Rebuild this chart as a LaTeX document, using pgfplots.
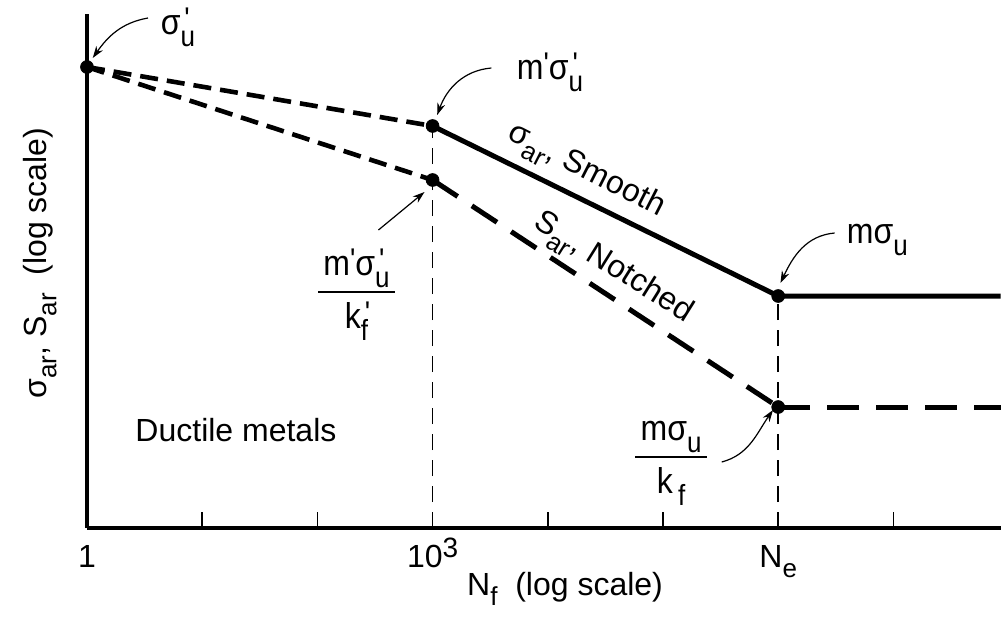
\documentclass[border=0pt]{standalone}
\usepackage{fontspec}
\setmainfont{Liberation Sans}
\usepackage{pgfplots}
\pgfplotsset{compat=1.18}
\usetikzlibrary{arrows.meta}

\newcommand{\sub}[1]{\raisebox{-0.32em}{\fontsize{13}{15}\selectfont #1}}
\newcommand{\pr}{\raisebox{0.15em}{\fontsize{14}{16}\selectfont\textquotesingle}}
\newcommand{\supsub}[2]{\makebox[0pt][l]{\hspace{0.12em}\raisebox{0.15em}{\fontsize{14}{16}\selectfont #1}}\raisebox{-0.32em}{\fontsize{13}{15}\selectfont #2}}
\newcommand{\ann}[1]{\scalebox{1}[1.12]{#1}}

\begin{document}
\begin{tikzpicture}[font=\fontsize{16}{19}\selectfont]
\begin{axis}[
  x=57.6pt, y=50pt,
  xmin=0, xmax=7.93, ymin=0, ymax=5.14,
  axis x line=bottom, axis y line=left,
  axis line style={line width=1.6pt, -},
  xtick={0,1,2,3,4,5,6,7},
  xticklabels={1,,,10\raisebox{0.3em}{\fontsize{14}{16}\selectfont 3},,,N\sub{e},},
  ytick=\empty,
  xtick align=inside,
  major tick length=8pt,
  tick style={line width=0.8pt, black},
  xticklabel style={font=\fontsize{16}{19}\selectfont, anchor=base, yshift=-19.5pt},
  clip=false,
]
% smooth
\addplot[black, line width=2.5pt] coordinates {(3,4.02) (6,2.32) (7.93,2.32)};
% short dashed extensions
\addplot[black, line width=2.3pt, dash pattern=on 9pt off 4.5pt] coordinates {(0,4.61) (3,4.02)};
\addplot[black, line width=2.3pt, dash pattern=on 9pt off 4.5pt] coordinates {(0,4.61) (3,3.48)};
% notched
\addplot[black, line width=2.5pt, dash pattern=on 15pt off 8.5pt] coordinates {(3,3.48) (6,1.21)};
\addplot[black, line width=2.5pt, dash pattern=on 16pt off 8.5pt] coordinates {(6,1.21) (7.93,1.21)};
% thin vertical dashed
\addplot[black, line width=0.8pt, dash pattern=on 8pt off 5pt] coordinates {(3,0) (3,4.02)};
\addplot[black, line width=0.8pt, dash pattern=on 8pt off 5pt] coordinates {(6,0) (6,2.32)};
% points
\addplot[only marks, mark=*, mark size=3.2pt, black] coordinates {(0,4.61) (3,4.02) (3,3.48) (6,2.32) (6,1.21)};

% labels
\node at (axis cs:0.79,5.01) {\ann{σ\supsub{\textquotesingle}{u}}};
\node at (axis cs:4.02,4.56) {\ann{m\pr σ\supsub{\textquotesingle}{u}}};
\node at (axis cs:6.86,2.88) {\ann{mσ\sub{u}}};
\node at (axis cs:2.34,2.36) {\ann{\renewcommand{\arraystretch}{1.2}\setlength{\arrayrulewidth}{1pt}\begin{tabular}{@{\,}c@{\,}}m\pr σ\supsub{\textquotesingle}{u}\\\hline k\supsub{\textquotesingle}{f}\end{tabular}}};
\node at (axis cs:5.07,0.71) {\ann{\renewcommand{\arraystretch}{1.2}\setlength{\arrayrulewidth}{1pt}\begin{tabular}{@{\,}c@{\,}}mσ\sub{u}\\\hline k\,\sub{f}\end{tabular}}};
\node[rotate=-27] at (axis cs:4.33,3.56) {σ\sub{ar}, Smooth};
\node[rotate=-32] at (axis cs:4.56,2.59) {S\sub{ar}, Notched};
\node at (axis cs:1.293,0.98) {Ductile metals};
\node[rotate=90] at (axis cs:-0.41,2.65) {σ\sub{ar}, S\sub{ar}\ \ (log scale)};
\node at (axis cs:4.15,-0.61) {N\sub{f}\ \ (log scale)};

% arrows
\draw[-{Stealth[length=6pt,width=4pt]}, line width=0.6pt] (axis cs:0.53,5.10) to[out=190,in=55] (axis cs:0.05,4.70);
\draw[-{Stealth[length=6pt,width=4pt]}, line width=0.6pt] (axis cs:3.51,4.60) to[out=185,in=70] (axis cs:3.04,4.13);
\draw[-{Stealth[length=6pt,width=4pt]}, line width=0.6pt] (axis cs:2.53,2.98) -- (axis cs:2.93,3.36);
\draw[-{Stealth[length=6pt,width=4pt]}, line width=0.6pt] (axis cs:6.49,2.95) to[out=185,in=65] (axis cs:6.02,2.45);
\draw[-{Stealth[length=6pt,width=4pt]}, line width=0.6pt] (axis cs:5.51,0.66) to[out=15,in=235] (axis cs:5.955,1.18);

\coordinate (bbll) at (axis cs:-0.755,-0.89);
\coordinate (bbur) at (axis cs:7.934,5.28);
\end{axis}
\pgfresetboundingbox
\path[use as bounding box] (bbll) rectangle (bbur);
\end{tikzpicture}
\end{document}
